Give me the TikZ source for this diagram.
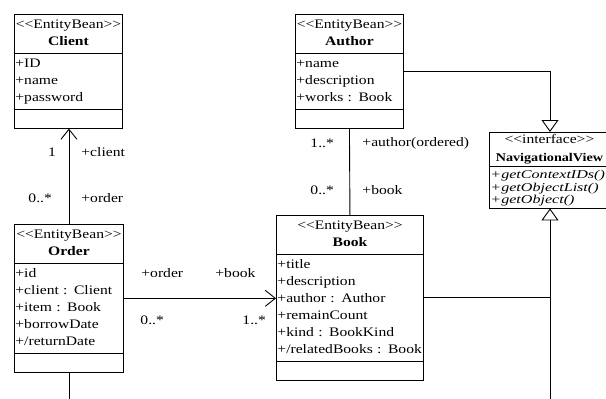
\documentclass[tikz,border=0pt]{standalone}
\usepackage{fontspec}
\setmainfont{Liberation Serif}[FakeStretch=1.2]
\usetikzlibrary{shapes.multipart,arrows.meta}
\setlength{\parindent}{0pt}
\setlength{\parskip}{0pt}
\newcommand{\st}{\rule[-4pt]{0pt}{15pt}}
\begin{document}
\begin{tikzpicture}[x=1pt, y=-1pt, line width=.9pt,
  font=\fontsize{13}{17}\selectfont,
  cls/.style={draw, rectangle split, rectangle split parts=3, anchor=north west,
    inner xsep=1pt, inner ysep=3pt},
  assoc/.style={-{Straight Barb[length=10pt,width=16pt]}},
  real/.style={-{Triangle[open,length=12pt,width=17pt]}},
  role/.style={anchor=west, inner sep=0pt}]
\useasboundingbox (0,0) rectangle (606,399);
\node[cls, text width=106pt] (client) at (14,14)
  {\centering\st{<}{<}EntityBean{>}{>}\par\st\textbf{Client}\par
   \nodepart{two}\raggedright\st+ID\par\st+name\par\st+password\par
   \nodepart{three}\rule{0pt}{12pt}};
\node[cls, text width=106pt] (author) at (295,14)
  {\centering\st{<}{<}EntityBean{>}{>}\par\st\textbf{Author}\par
   \nodepart{two}\raggedright\st+name\par\st+description\par\st+works : Book\par
   \nodepart{three}\rule{0pt}{12pt}};
\node[cls, text width=107pt] (order) at (14,224)
  {\centering\st{<}{<}EntityBean{>}{>}\par\st\textbf{Order}\par
   \nodepart{two}\raggedright\st+id\par\st+client : Client\par\st+item : Book\par\st+borrowDate\par\st+/returnDate\par
   \nodepart{three}\rule{0pt}{12pt}};
\node[cls, text width=145pt] (book) at (276,215)
  {\centering\st{<}{<}EntityBean{>}{>}\par\st\textbf{Book}\par
   \nodepart{two}\raggedright\st+title\par\st+description\par\st+author : Author\par\st+remainCount\par\st+kind : BookKind\par\st\mbox{+/relatedBooks : Book}\par
   \nodepart{three}\rule{0pt}{12pt}};
\node[cls, rectangle split parts=2, text width=118pt, inner ysep=1pt] (navview) at (489,132)
  {\centering\fontsize{13}{18}\selectfont\rule[-4pt]{0pt}{13pt}{<}{<}interface{>}{>}\par
   \rule[-4pt]{0pt}{13pt}{\fontsize{11.8}{18}\selectfont\textbf{NavigationalView}}\par
   \nodepart{two}\raggedright\itshape\fontsize{12}{12.5}\selectfont\addfontfeature{FakeStretch=1.34}\lineskiplimit=-20pt\lineskip=0pt
   \rule{0pt}{11pt}+getContextIDs()\par+getObjectList()\par+getObject()\par};

\draw[assoc] (order.north) -- (order.north |- client.south);
\draw[assoc] (order.east) -- (order.east -| book.west);
\draw (author.south) -- (book.north);
\coordinate (gtop) at ([xshift=61pt]navview.north west);
\coordinate (gbot) at ([xshift=61pt]navview.south west);
\coordinate (floor) at (0,399);
\draw[real] (author.east) -| (gtop);
\draw[real] (book.east) -| (gbot);
\draw (book.east -| gbot) -- (gbot |- floor);
\draw (order.south) -- (order.south |- floor);

\node (mClient) at (52,152) {1};
\node[role] (rClient) at (81,152) {+client};
\node[role] (mOrder) at (28,198) {0..*};
\node[role] (rOrder) at (81,198) {+order};
\node[role] (rLoan) at (141,273) {+order};
\node[role] (rItem) at (215,273) {+book};
\node[role] (mLoan) at (140,320) {0..*};
\node[role] (mItem) at (242,320) {1..*};
\node[role] (mAuthor) at (310,143) {1..*};
\node[role] (rAuthor) at (362,143) {+author(ordered)};
\node[role] (mWork) at (310,190) {0..*};
\node[role] (rWork) at (362,190) {+book};
\end{tikzpicture}
\end{document}
